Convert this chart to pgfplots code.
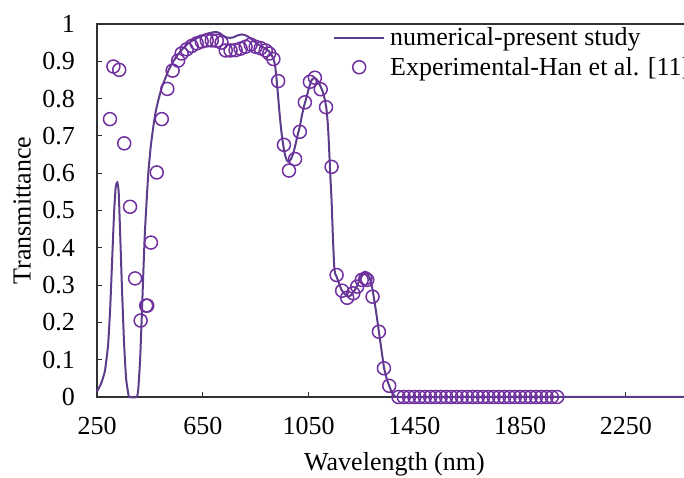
\documentclass[border=0pt]{standalone}
\usepackage{fontspec}
\setmainfont{Liberation Serif}
\usepackage{pgfplots}
\pgfplotsset{compat=1.18}
\definecolor{linepurple}{RGB}{94,60,140}
\definecolor{markpurple}{RGB}{112,48,160}
\definecolor{axgray}{RGB}{50,50,50}
\begin{document}
\begin{tikzpicture}[font=\fontsize{26}{31}\selectfont]
\begin{axis}[
  name=ax, at={(0,0)}, anchor=south west,
  scale only axis, width=595pt, height=373pt,
  xmin=250, xmax=2500, ymin=0, ymax=1,
  xtick={250,650,1050,1450,1850,2250},
  ytick={0,0.1,0.2,0.3,0.4,0.5,0.6,0.7,0.8,0.9,1},
  yticklabels={0,0.1,0.2,0.3,0.4,0.5,0.6,0.7,0.8,0.9,1},
  scaled x ticks=false,
  /pgf/number format/1000 sep={},
  /pgf/number format/assume math mode=true,
  xtick pos=bottom, ytick pos=left,
  tick align=inside, major tick length=5pt,
  tick style={axgray, line width=0.8pt},
  axis line style={axgray, line width=1.2pt},
  xticklabel style={inner sep=0pt, anchor=north},
  yticklabel style={inner sep=0pt, anchor=east},
  xticklabel shift=20pt,
  yticklabel shift=22pt,
  xlabel={Wavelength (nm)},
  ylabel={Transmittance},
  xlabel style={at={([yshift=-55pt]axis description cs:0.5,0)}, anchor=north, inner sep=0pt},
  ylabel style={at={([xshift=-66pt]axis description cs:0,0.5)}, anchor=south, inner sep=0pt},
  clip=false,
  legend cell align=left,
  legend style={draw=none, fill=none, at={(0.3966,0.99)}, anchor=north west,
    inner sep=0pt, nodes={inner sep=0pt}, column sep=5pt, row sep=10pt,
    font=\fontsize{26}{31}\selectfont},
  legend image code/.code={\draw[mark repeat=2,mark phase=2,#1] plot coordinates {(0pt,0pt) (25pt,0pt) (50pt,0pt)};},
]
\addplot[linepurple, line width=2pt, smooth, tension=0.3] coordinates {
(250,0.015) (265,0.035) (280,0.07) (292,0.14) (300,0.24) (308,0.38) (315,0.50)
(321,0.565) (327,0.575) (332,0.55) (338,0.43) (344,0.30) (352,0.15) (360,0.05)
(368,0.01) (372,0.0) (400,0.0) (406,0.02) (413,0.10) (419,0.21) (425,0.33)
(431,0.44) (438,0.53) (444,0.60) (453,0.67) (463,0.725) (472,0.765) (482,0.796)
(495,0.83) (507,0.852) (522,0.878) (538,0.899) (556,0.918) (576,0.935) (595,0.948)
(614,0.957) (633,0.964) (652,0.970) (671,0.975) (690,0.978) (705,0.978) (715,0.975)
(728,0.968) (740,0.964) (752,0.963) (765,0.964) (780,0.969) (797,0.972) (810,0.970)
(822,0.966) (838,0.957) (854,0.948) (870,0.941) (885,0.935) (900,0.927) (910,0.917)
(918,0.905) (923,0.890) (928,0.86) (935,0.805) (941,0.755) (948,0.707) (955,0.672)
(961,0.649) (967,0.636) (973,0.631) (980,0.634) (986,0.642) (992,0.653) (1000,0.675)
(1008,0.70) (1017,0.725) (1025,0.755) (1033,0.78) (1043,0.805) (1052,0.83) (1062,0.85)
(1070,0.855) (1078,0.853) (1085,0.847) (1093,0.836) (1103,0.82) (1112,0.796) (1118,0.77)
(1122,0.74) (1125,0.707) (1130,0.63) (1134,0.57) (1137,0.528) (1142,0.43) (1147,0.35)
(1151,0.33) (1156,0.323) (1165,0.305) (1175,0.287) (1188,0.275) (1200,0.269) (1212,0.274)
(1225,0.287) (1235,0.30) (1244,0.318) (1255,0.331) (1263,0.336) (1270,0.333) (1276,0.326)
(1282,0.318) (1290,0.295) (1295,0.275) (1305,0.23) (1316,0.175) (1325,0.13) (1335,0.08)
(1345,0.05) (1355,0.03) (1365,0.012) (1375,0.003) (1385,0.0) (1600,0.0) (2000,0.0) (2500,0.0)
};
\addlegendentry{numerical-present study}
\addplot[only marks, mark=o, mark size=6.5pt, markpurple, mark options={line width=1.5pt}] coordinates {
(299,0.745) (312,0.886) (334,0.877) (353,0.680) (375,0.510) (394,0.318) (415,0.205)
(436,0.245) (440,0.245) (454,0.414) (476,0.602) (495,0.745) (516,0.826) (536,0.875)
(557,0.902) (570,0.921) (589,0.932) (608,0.941) (627,0.948) (646,0.953) (665,0.956)
(684,0.956) (703,0.955) (721,0.950) (737,0.929) (755,0.929) (774,0.930) (793,0.934)
(812,0.939) (831,0.945) (850,0.939) (869,0.935) (888,0.929) (901,0.921) (917,0.906)
(935,0.847) (957,0.676) (976,0.607) (999,0.638) (1017,0.711) (1036,0.790) (1055,0.845)
(1074,0.856) (1096,0.825) (1116,0.777) (1137,0.617) (1156,0.327) (1177,0.285) (1196,0.266)
(1219,0.278) (1234,0.296) (1251,0.314) (1265,0.318) (1272,0.314) (1292,0.269) (1316,0.175)
(1335,0.077) (1355,0.030)
(1390,0) (1410,0) (1430,0) (1450,0) (1470,0) (1490,0) (1510,0) (1530,0) (1550,0) (1570,0)
(1590,0) (1610,0) (1630,0) (1650,0) (1670,0) (1690,0) (1710,0) (1730,0) (1750,0) (1770,0)
(1790,0) (1810,0) (1830,0) (1850,0) (1870,0) (1890,0) (1910,0) (1930,0) (1950,0) (1970,0) (1990,0)
};
\addlegendentry{Experimental-Han et al. [11]}
\end{axis}
\pgfresetboundingbox
\path[use as bounding box] ([shift={(-97pt,-81pt)}]ax.south west) rectangle ([shift={(-8pt,24pt)}]ax.north east);
\end{tikzpicture}
\end{document}
